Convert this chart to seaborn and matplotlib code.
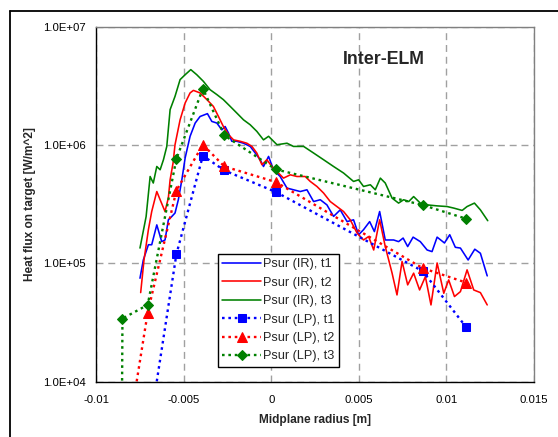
import numpy as np
import pandas as pd
import matplotlib
matplotlib.use("Agg")
import matplotlib.pyplot as plt
import seaborn as sns
from matplotlib.ticker import FuncFormatter, NullLocator, FixedLocator
from matplotlib.lines import Line2D

# ---------------- data ----------------
ir_t1_x = [-0.00749, -0.00730, -0.00701, -0.00682, -0.00653, -0.00625, -0.00606, -0.00587, -0.00567,
           -0.00549, -0.00530, -0.00510, -0.00491, -0.00463, -0.00434, -0.00406, -0.00364, -0.00339,
           -0.00310, -0.00282, -0.00263, -0.00244, -0.00225, -0.00196, -0.00158, -0.00120, -0.00091,
           -0.00063, -0.00044, -0.00015, 0.00013, 0.00051, 0.00090, 0.00127, 0.00166, 0.00204,
           0.00242, 0.00280, 0.00318, 0.00356, 0.00394, 0.00433, 0.00470, 0.00499, 0.00527,
           0.00562, 0.00589, 0.00619, 0.00651, 0.00699, 0.00727, 0.00753, 0.00779, 0.00810,
           0.00851, 0.00890, 0.00918, 0.00947, 0.00989, 0.01019, 0.01051, 0.01080, 0.01124,
           0.01162, 0.01194, 0.01233]
ir_t1_y = [7.5e4, 1.07e5, 1.44e5, 1.44e5, 2.12e5, 1.53e5, 1.58e5, 2.34e5, 2.5e5,
           2.67e5, 3.46e5, 5.1e5, 7.83e5, 1.19e6, 1.54e6, 1.75e6, 1.85e6, 1.59e6,
           1.54e6, 1.35e6, 1.44e6, 1.27e6, 1.08e6, 1.08e6, 1.04e6, 9.77e5, 8.59e5,
           7.54e5, 6.61e5, 8.04e5, 6.2e5, 5.44e5, 4.34e5, 4.2e5, 4.06e5, 4.2e5,
           3.34e5, 3.46e5, 3.13e5, 2.5e5, 2.84e5, 2.26e5, 2.34e5, 1.75e5, 1.93e5,
           2.26e5, 1.86e5, 2.75e5, 1.58e5, 1.58e5, 1.53e5, 1.64e5, 1.39e5, 1.67e5,
           1.53e5, 1.30e5, 1.26e5, 1.67e5, 1.49e5, 1.75e5, 1.37e5, 1.35e5, 1.07e5,
           1.32e5, 1.22e5, 7.85e4]

ir_t2_x = [-0.00745, -0.00726, -0.00701, -0.00682, -0.00653, -0.00634, -0.00606, -0.00587, -0.00577,
           -0.00560, -0.00549, -0.00520, -0.00491, -0.00463, -0.00444, -0.00406, -0.00367, -0.00330,
           -0.00301, -0.00273, -0.00244, -0.00215, -0.00177, -0.00139, -0.00110, -0.00082, -0.00053,
           -0.00025, 0.00004, 0.00033, 0.00070, 0.00109, 0.00147, 0.00194, 0.00223, 0.00261,
           0.00299, 0.00337, 0.00375, 0.00413, 0.00451, 0.00490, 0.00527, 0.00556, 0.00585,
           0.00619, 0.00651, 0.00690, 0.00718, 0.00747, 0.00779, 0.00813, 0.00847, 0.00880,
           0.00912, 0.00947, 0.00985, 0.01013, 0.01046, 0.01080, 0.01118, 0.01156, 0.01194,
           0.01233]
ir_t2_y = [5.67e4, 1.07e5, 1.93e5, 2.75e5, 4.06e5, 3.46e5, 2.75e5, 3.59e5, 5.1e5,
           7.1e5, 1.01e6, 1.64e6, 2.28e6, 2.77e6, 2.91e6, 2.77e6, 2.43e6, 2.13e6,
           1.75e6, 1.44e6, 1.23e6, 1.11e6, 1.08e6, 1.04e6, 9.77e5, 8.59e5, 6.84e5,
           7.54e5, 6.61e5, 6.0e5, 5.27e5, 5.62e5, 5.44e5, 5.44e5, 4.94e5, 4.48e5,
           3.94e5, 3.34e5, 3.03e5, 2.75e5, 2.34e5, 1.81e5, 1.58e5, 1.69e5, 1.30e5,
           2.34e5, 1.39e5, 8.28e4, 5.42e4, 1.04e5, 6.59e4, 8.28e4, 5.97e4, 7.74e4,
           4.46e4, 1.01e5, 5.6e4, 7.26e4, 5.25e4, 5.78e4, 8.83e4, 5.97e4, 5.67e4,
           4.46e4]

ir_t3_x = [-0.00749, -0.00714, -0.00691, -0.00673, -0.00653, -0.00634, -0.00615, -0.00596, -0.00577,
           -0.00549, -0.00520, -0.00491, -0.00459, -0.00425, -0.00387, -0.00349, -0.00310, -0.00273,
           -0.00234, -0.00196, -0.00158, -0.00120, -0.00082, -0.00044, -0.00015, 0.00033, 0.00090,
           0.00127, 0.00185, 0.00242, 0.00299, 0.00356, 0.00413, 0.00470, 0.00499, 0.00527,
           0.00566, 0.00594, 0.00623, 0.00651, 0.00690, 0.00727, 0.00756, 0.00785, 0.00813,
           0.00851, 0.00890, 0.00947, 0.01004, 0.01042, 0.01090, 0.01118, 0.01160, 0.01194,
           0.01236]
ir_t3_y = [1.35e5, 2.49e5, 5.44e5, 4.79e5, 6.61e5, 6.2e5, 7.54e5, 9.77e5, 2.0e6,
           2.59e6, 3.59e6, 3.95e6, 4.36e6, 3.95e6, 3.47e6, 2.95e6, 2.68e6, 2.43e6,
           2.13e6, 1.87e6, 1.64e6, 1.49e6, 1.31e6, 1.11e6, 1.19e6, 1.01e6, 1.04e6,
           9.77e5, 9.77e5, 8.59e5, 7.54e5, 6.61e5, 5.82e5, 4.94e5, 5.1e5, 4.48e5,
           4.63e5, 4.2e5, 5.27e5, 4.79e5, 3.57e5, 3.24e5, 3.46e5, 3.34e5, 3.68e5,
           3.24e5, 3.13e5, 3.07e5, 3.03e5, 2.94e5, 2.81e5, 3.03e5, 3.24e5, 2.84e5,
           2.3e5]

lp_t1_x = [-0.00705, -0.00541, -0.00390, -0.00267, 0.00027, 0.00865, 0.01113]
lp_t1_y = [3.2e3, 1.20e5, 8.15e5, 6.12e5, 4.02e5, 8.61e4, 2.89e4]

lp_t2_x = [-0.00847, -0.00705, -0.00541, -0.00390, -0.00267, 0.00027, 0.00865, 0.01113]
lp_t2_y = [1.86e3, 3.84e4, 4.14e5, 1.01e6, 6.61e5, 4.88e5, 9.12e4, 6.89e4]

lp_t3_x = [-0.00855, -0.00849, -0.00705, -0.00541, -0.00390, -0.00267, 0.00027, 0.00865, 0.01113]
lp_t3_y = [1.0e3, 3.42e4, 4.46e4, 7.69e5, 3.01e6, 1.21e6, 6.24e5, 3.12e5, 2.39e5]

x_ticks = [-0.01, -0.005, 0, 0.005, 0.01, 0.015]
x_tick_labels = ["-0.01", "-0.005", "0", "0.005", "0.01", "0.015"]
y_ticks = [1e4, 1e5, 1e6, 1e7]

# ---------------- style ----------------
sns.set_style("white")
plt.rcParams['font.family'] = ['Liberation Sans', 'DejaVu Sans']

W, H = 558, 437
fig = plt.figure(figsize=(W / 100, H / 100), dpi=100)
ax = fig.add_axes([96 / W, 1 - 381.7 / H, 438 / W, 354.7 / H])

BLUE, RED, GREEN = "#0000FF", "#FF0000", "#008000"

ir_series = [
    ("Psur (IR), t1", ir_t1_x, ir_t1_y, BLUE),
    ("Psur (IR), t2", ir_t2_x, ir_t2_y, RED),
    ("Psur (IR), t3", ir_t3_x, ir_t3_y, GREEN),
]
for lab, xs, ys, c in ir_series:
    df = pd.DataFrame({"x": xs, "y": ys})
    sns.lineplot(data=df, x="x", y="y", ax=ax, color=c, lw=1.15, sort=False,
                 estimator=None, label=lab)

lp_series = [
    ("Psur (LP), t1", lp_t1_x, lp_t1_y, BLUE, "s", 6.3),
    ("Psur (LP), t2", lp_t2_x, lp_t2_y, RED, "^", 7.5),
    ("Psur (LP), t3", lp_t3_x, lp_t3_y, GREEN, "D", 5.6),
]
for lab, xs, ys, c, m, ms in lp_series:
    df = pd.DataFrame({"x": xs, "y": ys})
    sns.lineplot(data=df, x="x", y="y", ax=ax, color=c, lw=1.7, sort=False,
                 estimator=None, label=lab, marker=m, markersize=ms,
                 markeredgecolor=c, markerfacecolor=c, linestyle=(0, (1.1, 1.6)))

ax.set_yscale("log")
ax.set_xlim(-0.01, 0.015)
ax.set_ylim(1e4, 1e7)
ax.xaxis.set_major_locator(FixedLocator(x_ticks))
ax.set_xticklabels(x_tick_labels)
ax.yaxis.set_major_locator(FixedLocator(y_ticks))
ax.yaxis.set_minor_locator(NullLocator())
ax.yaxis.set_major_formatter(FuncFormatter(lambda v, p: "{:.1E}".format(v)))

ax.grid(True, which="major", color="#a0a0a0", linestyle=(0, (5, 3.5)), lw=1.0)
ax.set_axisbelow(True)

for s in ["left", "bottom"]:
    ax.spines[s].set_color("black")
    ax.spines[s].set_linewidth(1.0)
for s in ["top", "right"]:
    ax.spines[s].set_color("#808080")
    ax.spines[s].set_linewidth(1.0)
    ax.spines[s].set_visible(True)

ax.tick_params(axis="both", which="major", direction="out", length=4, width=1,
               color="black", labelsize=8.2, labelcolor="black", pad=3.5)
ax.tick_params(axis="x", pad=5.5)

ax.set_xlabel("")
ax.set_ylabel("")
fig.text(315 / W, 1 - 420 / H, "Midplane radius [m]", ha="center", va="center",
         fontsize=8.6, fontweight="bold")
fig.text(30 / W, 1 - 204 / H, "Heat flux on target [W/m^2]", ha="center", va="center",
         rotation=90, fontsize=8.6, fontweight="bold")

ax.text((384 - 96) / 438, (381.7 - 60) / 354.7, "Inter-ELM", transform=ax.transAxes,
        ha="center", va="center", fontsize=12.8, fontweight="bold")

leg = ax.legend(loc="upper left", bbox_to_anchor=((218 - 96) / 438, (381.7 - 254) / 354.7),
                borderaxespad=0, fontsize=9.2, frameon=True, fancybox=False,
                edgecolor="black", framealpha=1, handlelength=3.0, handletextpad=0.15,
                labelspacing=0.5, borderpad=0.35, numpoints=1)
leg.get_frame().set_linewidth(1.0)

# outer chart frame (only top and left edges are visible in the crop)
top = 1 - 11 / H
left = 10 / W
fig.add_artist(Line2D([left, 1.0], [top, top], transform=fig.transFigure,
                      color="black", lw=1.3))
fig.add_artist(Line2D([left, left], [0.0, top], transform=fig.transFigure,
                      color="black", lw=1.3))

fig.savefig("out.png", dpi=100)
